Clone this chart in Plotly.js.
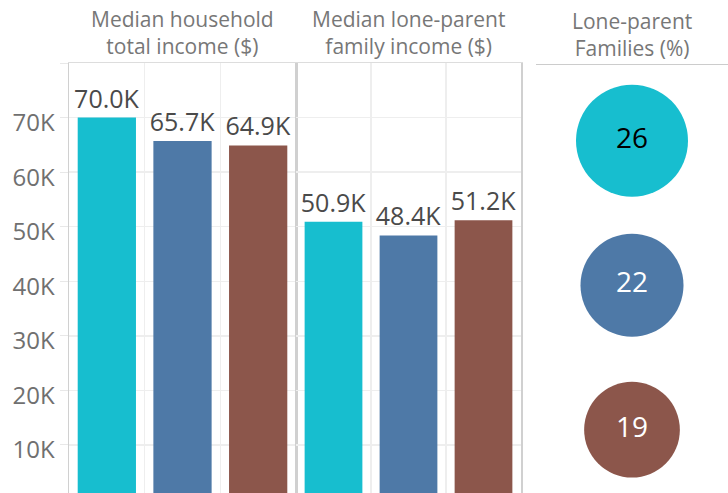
<!DOCTYPE html>
<html>
<head>
<meta charset="utf-8">
<script src="https://cdn.plot.ly/plotly-3.0.1.min.js"></script>
<style>
html,body{margin:0;padding:0;background:#fff;overflow:hidden;}
#chart{width:728px;height:493px;}
</style>
</head>
<body>
<div id="chart"></div>
<script>
// ---- data ----
const groups = ['Group A', 'Group B', 'Group C'];
const householdIncome = [70000, 65700, 64900];
const loneParentIncome = [50900, 48400, 51200];
const loneParentPct = [26, 22, 19];
const groupColors = ['#17becf', '#4e79a7', '#8c564b'];
const pctTextColors = ['#000000', '#ffffff', '#ffffff'];
const yTickVals = [10000, 20000, 30000, 40000, 50000, 60000, 70000, 80000];
const yTickText = ['10K', '20K', '30K', '40K', '50K', '60K', '70K', ''];
const panelTitles = ['Median household<br>total income ($)', 'Median lone-parent<br>family income ($)', 'Lone-parent<br>Families (%)'];

// ---- layout helpers ----
const W = 728, H = 493;
const FONT = 'Open Sans, Noto Sans, sans-serif';
const px = v => v / W;
const py = v => (H - v) / H;

function fmtK(v) { return (v / 1000).toFixed(1) + 'K'; }

const barCommon = {
  type: 'bar',
  width: 0.77,
  marker: { color: groupColors },
  textposition: 'outside',
  constraintext: 'none',
  cliponaxis: false,
  textfont: { family: FONT, size: 25, color: '#4a4a4a' },
  hoverinfo: 'skip',
  showlegend: false
};

const traces = [
  Object.assign({}, barCommon, { x: groups, y: householdIncome, text: householdIncome.map(fmtK), xaxis: 'x', yaxis: 'y' }),
  Object.assign({}, barCommon, { x: groups, y: loneParentIncome, text: loneParentIncome.map(fmtK), xaxis: 'x2', yaxis: 'y2' }),
  {
    type: 'scatter', mode: 'markers+text',
    x: groups.map(() => 0), y: groups,
    marker: { size: loneParentPct, sizemode: 'area', sizeref: 2 * 26 / (112 * 112), color: groupColors, line: { width: 0 }, opacity: 1 },
    text: loneParentPct.map(String),
    textposition: 'middle center',
    textfont: { family: FONT, size: 28, color: pctTextColors },
    xaxis: 'x3', yaxis: 'y3',
    hoverinfo: 'skip', showlegend: false, cliponaxis: false
  }
];

const xBar = {
  type: 'category', range: [-0.5, 2.5], fixedrange: true,
  showticklabels: false, ticks: '', tickson: 'boundaries',
  showgrid: true, gridcolor: '#eeeeee', gridwidth: 1.5,
  zeroline: false, showline: true, side: 'top', linecolor: '#dddddd', linewidth: 1
};
const yBar = {
  range: [1200, 80000], fixedrange: true,
  tickvals: yTickVals, ticktext: yTickText,
  tickfont: { family: FONT, size: 24, color: '#707070' },
  ticklabelshift: 5,
  ticks: 'outside', ticklen: 8, tickcolor: '#e8e8e8', tickwidth: 1,
  showgrid: true, gridcolor: '#eeeeee', gridwidth: 1.5,
  zeroline: false, showline: true, mirror: true, linecolor: '#d0d0d0', linewidth: 1.5,
  automargin: false,
  domain: [0, py(63)]
};

const layout = {
  width: W, height: H,
  margin: { l: 0, r: 0, t: 0, b: 0, pad: 0 },
  paper_bgcolor: '#ffffff', plot_bgcolor: 'rgba(0,0,0,0)',
  font: { family: FONT },
  showlegend: false,
  xaxis: Object.assign({}, xBar, { domain: [px(69), px(296)], anchor: 'y' }),
  yaxis: Object.assign({}, yBar, { anchor: 'x' }),
  xaxis2: Object.assign({}, xBar, { domain: [px(296), px(521)], anchor: 'y2' }),
  yaxis2: Object.assign({}, yBar, { anchor: 'x2', showticklabels: false, ticks: '' }),
  xaxis3: {
    domain: [px(536), 1], range: [-1, 1], anchor: 'y3', fixedrange: true,
    showticklabels: false, ticks: '', showgrid: false, zeroline: false,
    showline: true, side: 'top', linecolor: '#cccccc', linewidth: 1.5
  },
  yaxis3: {
    domain: [0, py(65)], type: 'category', range: [2.438, -0.524], anchor: 'x3', fixedrange: true,
    showticklabels: false, ticks: '', showgrid: false, zeroline: false, showline: false
  },
  annotations: [
    { text: panelTitles[0], x: (px(69) + px(296)) / 2, yshift: -3 },
    { text: panelTitles[1], x: (px(296) + px(521)) / 2, yshift: -3 },
    { text: panelTitles[2], x: (px(536) + 1) / 2, yshift: -5 }
  ].map(a => Object.assign(a, {
    xref: 'paper', yref: 'paper', y: 1, yanchor: 'top', xanchor: 'center',
    showarrow: false, align: 'center',
    font: { family: FONT, size: 21, color: '#777777' }
  }))
};

Plotly.newPlot('chart', traces, layout, { displayModeBar: false, staticPlot: true });
</script>
</body>
</html>
